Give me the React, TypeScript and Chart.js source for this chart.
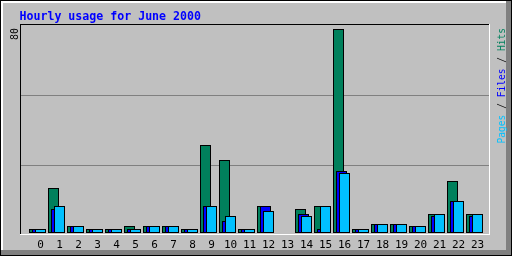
import React, { useEffect, useRef } from 'react';
import { Chart, registerables } from 'chart.js';

Chart.register(...registerables);

const hours = [0, 1, 2, 3, 4, 5, 6, 7, 8, 9, 10, 11, 12, 13, 14, 15, 16, 17, 18, 19, 20, 21, 22, 23];
const hits = [1, 17, 2, 1, 1, 2, 2, 2, 1, 34, 28, 1, 10, 0, 9, 10, 80, 1, 3, 3, 2, 7, 20, 7];
const files = [1, 9, 2, 1, 1, 1, 2, 2, 1, 10, 4, 1, 10, 0, 7, 1, 24, 1, 3, 3, 2, 6, 12, 6];
const pages = [1, 10, 2, 1, 1, 1, 2, 2, 1, 10, 6, 1, 8, 0, 6, 10, 23, 1, 3, 3, 2, 7, 12, 7];
const titleText = 'Hourly usage for June 2000';
const yMaxValue = 80;
const yMaxLabel = '80';
const legendParts = [
  { text: 'Pages', color: '#00c0ff' },
  { text: ' / ', color: '#000000' },
  { text: 'Files', color: '#0000ff' },
  { text: ' / ', color: '#000000' },
  { text: 'Hits', color: '#00805c' },
];

const HIT_COLOR = '#00805c';
const FILE_COLOR = '#0000ff';
const PAGE_COLOR = '#00c0ff';
const MONO = "'DejaVu Sans Mono', monospace";

// pixel geometry of the plot: 19px per hour, bars offset by 3px
const STEP = 19;
const X_MIN = -19.5 / STEP;
const X_MAX = X_MIN + 468 / STEP;
// 203px of bar height for the maximum value
const PX_PER_UNIT = 203 / yMaxValue;

const toPoints = (arr: number[], shift: number) =>
  arr
    .map((v, i) => ({ x: hours[i] + shift / STEP, y: v }))
    .filter((p) => p.y > 0);

const snapPlugin = {
  id: 'snapBars',
  afterDatasetsUpdate(chart: any) {
    chart.getSortedVisibleDatasetMetas().forEach((meta: any) => {
      meta.data.forEach((el: any) => {
        el.y = Math.floor(el.y - 1);
      });
    });
  },
};

const framePlugin = {
  id: 'webalizerFrame',
  beforeDraw(chart: any) {
    const ctx = chart.ctx as CanvasRenderingContext2D;
    const W = chart.width;
    const H = chart.height;
    ctx.save();
    ctx.fillStyle = '#c0c0c0';
    ctx.fillRect(0, 0, W, H);
    ctx.fillStyle = '#ffffff';
    ctx.fillRect(1, 1, W - 2, 2);
    ctx.fillRect(1, 1, 2, H - 2);
    ctx.fillStyle = '#808080';
    ctx.fillRect(W - 6, 1, 5, H - 2);
    ctx.fillRect(1, H - 6, W - 2, 5);
    ctx.fillStyle = '#000000';
    ctx.fillRect(0, 0, W, 1);
    ctx.fillRect(0, 0, 1, H);
    ctx.fillRect(W - 1, 0, 1, H);
    ctx.fillRect(0, H - 1, W, 1);

    const { left, right, top, bottom } = chart.chartArea;
    ctx.fillStyle = '#000000';
    ctx.fillRect(left - 1, top - 1, right - left + 1, 1);
    ctx.fillRect(left - 1, top - 1, 1, bottom - top + 3);
    ctx.fillStyle = '#ffffff';
    ctx.fillRect(right, top - 1, 1, bottom - top + 3);
    ctx.fillRect(left - 1, bottom + 1, right - left + 2, 1);

    ctx.fillStyle = '#808080';
    for (let k = 1; k <= 2; k++) {
      const y = Math.round(top + ((bottom + 2 - top) * k) / 3);
      ctx.fillRect(left, y, right - left, 1);
    }
    ctx.restore();
  },
  afterDraw(chart: any) {
    const ctx = chart.ctx as CanvasRenderingContext2D;
    ctx.save();
    ctx.textBaseline = 'alphabetic';
    ctx.textAlign = 'left';
    ctx.font = `bold 11.6px ${MONO}`;
    ctx.fillStyle = '#0000ff';
    ctx.fillText(titleText, 19.5, 19.5);

    ctx.font = `10px ${MONO}`;
    ctx.fillStyle = '#000000';
    ctx.save();
    ctx.translate(18, 40);
    ctx.rotate(-Math.PI / 2);
    ctx.fillText(yMaxLabel, 0, 0);
    ctx.restore();

    ctx.font = `9.6px ${MONO}`;
    const total = legendParts.reduce((s, p) => s + ctx.measureText(p.text).width, 0);
    ctx.save();
    ctx.translate(504.5, 28 + total);
    ctx.rotate(-Math.PI / 2);
    let x = 0;
    for (const p of legendParts) {
      ctx.fillStyle = p.color;
      ctx.fillText(p.text, x, 0);
      x += ctx.measureText(p.text).width;
    }
    ctx.restore();
    ctx.restore();
  },
};

export default function App() {
  const ref = useRef<HTMLCanvasElement | null>(null);
  useEffect(() => {
    if (!ref.current) return;
    const common = {
      borderColor: '#000000',
      borderWidth: 1,
      borderSkipped: false,
      barThickness: 11,
      grouped: false,
      inflateAmount: 0,
    };
    const chart = new Chart(ref.current, {
      type: 'bar',
      data: {
        datasets: [
          { ...common, label: 'Hits', data: toPoints(hits, -6), backgroundColor: HIT_COLOR, order: 3 },
          { ...common, label: 'Files', data: toPoints(files, -3), backgroundColor: FILE_COLOR, order: 2 },
          { ...common, label: 'Pages', data: toPoints(pages, 0), backgroundColor: PAGE_COLOR, order: 1 },
        ] as any,
      },
      options: {
        animation: false,
        responsive: false,
        devicePixelRatio: 1,
        layout: { padding: { left: 21, right: 23, top: 25, bottom: 0 } },
        plugins: {
          legend: { display: false },
          tooltip: { enabled: false },
          title: { display: false },
        },
        scales: {
          x: {
            type: 'linear',
            min: X_MIN,
            max: X_MAX,
            offset: false,
            grid: { display: false, drawTicks: false },
            border: { display: false },
            ticks: {
              color: '#000000',
              font: { family: MONO, size: 11 },
              padding: 6,
              autoSkip: false,
              maxRotation: 0,
              minRotation: 0,
              callback: (v: any) => String(v),
            },
            afterBuildTicks: (s: any) => {
              s.ticks = hours.map((h) => ({ value: h }));
            },
            afterFit: (s: any) => {
              s.height = 23;
            },
          },
          y: {
            type: 'linear',
            display: false,
            min: 0,
            max: 208 / PX_PER_UNIT,
          },
        },
      } as any,
      plugins: [snapPlugin, framePlugin],
    });
    return () => chart.destroy();
  }, []);
  return (
    <div style={{ position: 'fixed', left: 0, top: 0, width: 512, height: 256 }}>
      <canvas ref={ref} width={512} height={256} style={{ display: 'block' }} />
    </div>
  );
}
